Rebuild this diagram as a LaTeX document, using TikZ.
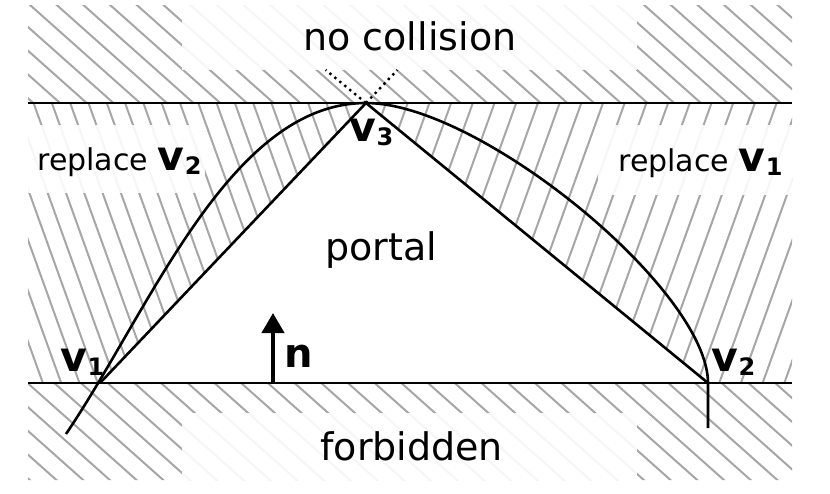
\documentclass[tikz,border=0pt]{standalone}
\usepackage{fontspec}
\setmainfont{DejaVu Sans}
\usepackage{xcolor}
\usetikzlibrary{arrows.meta, calc}
\definecolor{hatchgray}{HTML}{A6A6A6}
\newcommand{\vlab}[1]{{\bfseries\fontsize{20.5}{20.5}\selectfont v\kern0.2pt\raisebox{-2pt}{\fontsize{12}{12}\selectfont #1}}}

\tikzset{
  hatch/.style={hatchgray, line width=1pt},
  edge/.style={black, line width=1.3pt},
  labelbox/.style={fill=white, fill opacity=0.9},
  bigtext/.style={font=\fontsize{19}{19}\selectfont, inner sep=0pt, anchor=base west},
  smalltext/.style={font=\fontsize{15}{15}\selectfont, inner sep=0pt, anchor=base west},
  vtext/.style={inner sep=0pt, anchor=base west},
}

\begin{document}
\begin{tikzpicture}[x=0.5pt, y=-0.5pt]
  \useasboundingbox (0,0) rectangle (830,493);
  % pixel grid: 1 unit = 1 px of the original
  \def\xL{28}   \def\xR{792}
  \def\yT{103}  \def\yB{383}

  \coordinate (v1) at (100,\yB);
  \coordinate (v2) at (708,\yB);
  \coordinate (v3) at (366,\yT);

  % --- hatching above and below the two walls ---
  \begin{scope}
    \clip (\xL,5) rectangle (\xR,\yT) (\xL,\yB) rectangle (\xR,480);
    \foreach \k in {-22,...,30}
      \draw[hatch] ({24.4+26.7*\k},0) -- ({624.4+26.7*\k},534);
  \end{scope}

  % --- hatching left of the portal ---
  \begin{scope}
    \clip (\xL,\yT) -- (v3) -- (v1) -- (\xL,\yB) -- cycle;
    \foreach \k in {-7,...,19}
      \draw[hatch] ({-3.5+18.3*\k},0) -- ({176.5+18.3*\k},500);
  \end{scope}

  % --- hatching right of the portal ---
  \begin{scope}
    \clip (v3) -- (\xR,\yT) -- (\xR,\yB) -- (v2) -- cycle;
    \foreach \k in {-14,...,13}
      \draw[hatch] ({683.5+21.7*\k},0) -- ({503.5+21.7*\k},500);
  \end{scope}

  % --- white boxes behind the labels ---
  \fill[labelbox] (182,5) rectangle (637,70);
  \fill[labelbox] (\xL,125) rectangle (205,193);
  \fill[labelbox] (598,125) rectangle (\xR,195);
  \fill[labelbox] (182,413) rectangle (637,480);

  % --- walls ---
  \coordinate (topL) at (\xL,\yT);
  \coordinate (topR) at (\xR,\yT);
  \coordinate (botL) at (\xL,\yB);
  \coordinate (botR) at (\xR,\yB);
  \draw[edge] (topL) -- (topR);
  \draw[edge] (botL) -- (botR);

  % --- portal triangle ---
  \draw[edge] (v1) -- (v3) -- (v2);
  \draw[black, line width=1.2pt, dotted] (v3) -- ($(v3)!-0.118!(v1)$);
  \draw[black, line width=1.2pt, dotted] (v3) -- ($(v3)!-0.118!(v2)$);

  % --- curve ---
  \coordinate (cstart) at (66,434);
  \coordinate (cend) at (708,428);
  \draw[edge] (cstart) .. controls (150,310) and (230,\yT) .. (v3)
    .. controls (480,\yT) and (708,290) .. (v2) -- (cend);

  % --- normal ---
  \coordinate (nfoot) at (273,\yB);
  \coordinate (nhead) at (273,313);
  \draw[line width=2pt, -{Triangle[width=11pt,length=10pt]}] (nfoot) -- (nhead);

  % --- labels ---
  \node[bigtext] (nocoll) at (303,50) {no collision};
  \node[bigtext] (portal) at (325,260) {portal};
  \node[bigtext] (forbid) at (320,460) {forbidden};
  \node[smalltext] (repl2) at (37,170) {replace \vlab{2}};
  \node[smalltext] (repl1) at (618,171) {replace \vlab{1}};
  \node[vtext] (lv1) at (60,371) {\vlab{1}};
  \node[vtext] (lv2) at (711,371) {\vlab{2}};
  \node[vtext] (lv3) at (349,141) {\vlab{3}};
  \node[vtext, font=\bfseries\fontsize{20}{20}\selectfont] (ln) at (284,367) {n};

\end{tikzpicture}
\end{document}
